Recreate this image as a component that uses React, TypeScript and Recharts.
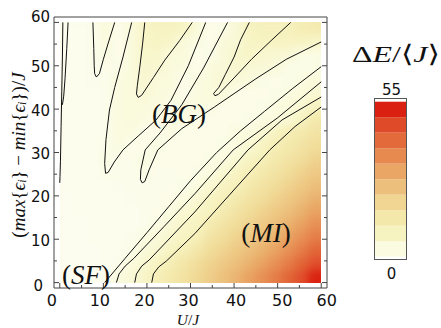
import React from "react";
import { ComposedChart, BarChart, Bar, Line, XAxis, YAxis, ReferenceArea } from "recharts";

const xTicks = [0, 5, 10, 15, 20, 25, 30, 35, 40, 45, 50, 55, 60];
const yTicks = [0, 5, 10, 15, 20, 25, 30, 35, 40, 45, 50, 55, 60];

// density grid: cell centres (U/J across, disorder width down), values of the gap
const uCenters = [1.5, 4.5, 7.5, 10.5, 13.5, 16.5, 19.5, 22.5, 25.5, 28.5, 31.5, 34.5, 37.5, 40.5, 43.5, 46.5, 49.5, 52.5, 55.5, 58.5];
const vCenters = [58.5, 55.5, 52.5, 49.5, 46.5, 43.5, 40.5, 37.5, 34.5, 31.5, 28.5, 25.5, 22.5, 19.5, 16.5, 13.5, 10.5, 7.5, 4.5, 1.5];
const gapRows = [
  [0.3, 0.5, 0.8, 3.5, 1, 3.5, 7, 8, 8, 7.5, 3.5, 1, 1.5, 4.5, 8, 9, 9, 9, 11, 12],
  [0.3, 0.5, 0.8, 3, 1, 3.5, 7, 7.5, 7, 3.5, 2.5, 1, 4, 4.5, 7.5, 8, 8, 8, 8, 7],
  [0.3, 0.5, 0.8, 2.5, 1, 3.5, 6.5, 6.5, 3.5, 3.5, 1, 1.5, 4, 6.5, 7, 5.5, 5.5, 4.5, 2, 2],
  [0.3, 0.5, 0.8, 1, 1.5, 3.5, 6, 5.5, 3.5, 3, 1, 3.5, 4, 6, 4.5, 4.5, 3.5, 1.5, 1.5, 2],
  [0.3, 0.5, 0.7, 0.8, 3, 3.5, 5.5, 3.5, 3.5, 1, 3, 3.5, 5, 4, 3.5, 1.5, 1.2, 1.5, 3, 3.5],
  [0.3, 0.5, 0.6, 0.8, 3, 3.5, 4, 3.5, 3, 1, 3, 3.5, 3.5, 1.2, 1.2, 1.3, 1.5, 3, 3.5, 5],
  [0.3, 0.5, 0.6, 0.8, 3, 3.5, 3.5, 3, 1, 3, 3, 2.8, 1.2, 1.2, 1.3, 1.5, 3, 3.5, 5.5, 8],
  [0.3, 0.5, 0.6, 0.8, 3, 3.5, 3, 1, 3, 3, 1.2, 1.2, 1.2, 1.3, 1.5, 3, 3, 5, 8, 13],
  [0.3, 0.5, 0.6, 0.9, 3, 3, 1, 1.2, 2.8, 1.2, 1.2, 1.2, 1.3, 3, 3, 5, 8, 11, 13, 15],
  [0.3, 0.5, 0.6, 1.5, 2.5, 1, 1.2, 2.5, 1.2, 1.2, 1.2, 1.3, 2, 3, 5, 8, 11, 13, 15, 17],
  [0.3, 0.5, 0.6, 2, 1, 1, 2.5, 1.2, 1.2, 1.2, 1.3, 2, 3, 5, 8, 10, 13, 15, 17, 20],
  [0.3, 0.4, 0.5, 1.2, 0.8, 0.8, 2, 1, 1, 1.2, 1.8, 3, 5, 8, 10, 13, 15, 17, 20, 22.5],
  [0.3, 0.4, 0.5, 0.6, 0.7, 0.8, 0.9, 1, 1.1, 1.5, 3, 5, 8, 9.5, 13, 15, 17, 20, 22.5, 25],
  [0.2, 0.3, 0.4, 0.5, 0.6, 0.7, 0.8, 1, 1.3, 3, 5, 8, 9.5, 12.5, 15, 17, 20, 22.5, 25, 28],
  [0.2, 0.3, 0.3, 0.4, 0.5, 0.6, 0.8, 1.2, 3, 5, 7, 8.5, 12, 15, 17, 20, 22.5, 25, 28, 31],
  [0.2, 0.2, 0.3, 0.4, 0.5, 0.6, 0.9, 2.5, 4.5, 7, 8.5, 12, 15, 17, 20, 22.5, 25, 28, 31, 34.5],
  [0.2, 0.2, 0.3, 0.3, 0.5, 0.8, 2.5, 4, 6, 8, 10, 15, 17, 20, 22.5, 25, 28, 31, 34.5, 38],
  [0.2, 0.2, 0.2, 0.3, 0.5, 1.5, 4, 5.5, 8, 10.5, 14, 17, 20, 22.5, 25, 28, 31, 34.5, 38, 42],
  [0.2, 0.2, 0.2, 0.3, 0.8, 3.5, 5.5, 8, 11, 14, 17, 20, 22.5, 25, 28, 31, 34.5, 38, 42, 46],
  [0.2, 0.2, 0.2, 0.5, 3, 4.5, 7, 10, 13, 15.5, 18.5, 21.5, 24.5, 27.5, 31, 34.5, 38, 42, 46, 52],
];

// contour lines, [U/J, width/J]
const edgeA = [[0.7, 60], [0.6, 52], [0.45, 44], [0.3, 36], [0.15, 28], [0.05, 24.5], [0, 23]];
const edgeB = [[1.9, 60], [1.6, 54], [1.2, 47], [0.9, 43], [0.6, 41]];
const tongue1 = [[7.6, 60], [7.8, 54], [7.9, 50], [8.0, 48.2], [8.4, 47.4], [9.1, 48.2], [10.0, 51.5], [11.2, 55.5], [12.6, 60]];
const tongue2 = [[19.5, 60], [19.0, 55], [18.4, 50], [17.8, 45.5], [17.6, 43.5], [18.0, 42.7], [18.8, 43.2], [21.5, 47.3], [24.1, 51.3], [27.5, 55.8], [30.4, 60]];
const tongueA = [[16.5, 60], [14.5, 52], [12.6, 45], [11.4, 39.8], [10.6, 33], [10.3, 27.5], [10.5, 25.2], [11.1, 25.4], [12.5, 27.8], [14.5, 30.6], [18, 33.8], [22.1, 37.5], [25.5, 42], [29.5, 50], [33.5, 60]];
const tongueB = [[38.5, 60], [33, 49.5], [28, 41], [23, 34.5], [19.6, 30.6], [18.6, 26], [18.5, 23.8], [18.9, 23.0], [19.5, 23.3], [20.5, 26], [22.5, 30.6], [28, 35.5], [35.5, 40.5], [45, 47], [52, 51.5], [60, 55.5]];
const tongue3 = [[43.5, 60], [41.5, 56], [40, 52], [38, 48], [36.5, 45], [35.3, 43.6], [35.6, 43.1], [36.4, 43.4], [40, 47.2], [44, 51.5], [48.5, 55.8], [53, 60]];
const mott1 = [[10.3, 0], [15, 5.6], [20, 11.5], [25, 17.5], [30, 23.5], [36, 30], [41.5, 35], [47, 39.5], [53.5, 44.8], [60, 49.8]];
const mott2 = [[13, 0], [13.6, 2], [15, 3.8], [17, 5.6], [24, 13], [31.1, 20.6], [39.8, 30.6], [50, 38], [60, 46.3]];
const mott3 = [[17.2, 0], [17.6, 2], [18.8, 3.8], [20.5, 5.2], [31, 16.3], [43.2, 30.6], [51, 37.5], [60, 42.8]];
const mott4 = [[21.1, 0], [21.5, 2], [22.7, 3.6], [24.5, 5], [31, 11.3], [48.2, 30.6], [54, 36], [60, 40.5]];
const contours = [edgeA, edgeB, tongue1, tongue2, tongueA, tongueB, tongue3, mott1, mott2, mott3, mott4];

// colour bar
const barLevels = [0, 5.5, 11, 16.5, 22, 27.5, 33, 38.5, 44, 49.5, 55];
const barColors = ["#fafbe0", "#f7f3c1", "#f3e7a9", "#f0d692", "#ecc07c", "#e9a664", "#e68a50", "#e36a3b", "#df4a28", "#da2010"];

const lowColor = "#fdfdf0";
const highColor = "#d6170a";
const frameColor = "#444";

const toRgb = (c: string) => [1, 3, 5].map((i) => parseInt(c.slice(i, i + 2), 16));
const stops: [number, string][] = [
  [barLevels[0], lowColor],
  ...barColors.map((c, i) => [(barLevels[i] + barLevels[i + 1]) / 2, c] as [number, string]),
  [barLevels[barLevels.length - 1], highColor],
];
function gapColor(g: number) {
  for (let i = 1; i < stops.length; i++) {
    if (g <= stops[i][0] || i === stops.length - 1) {
      const [g0, c0] = stops[i - 1];
      const [g1, c1] = stops[i];
      const t = Math.max(0, Math.min(1, (g - g0) / (g1 - g0)));
      const a = toRgb(c0);
      const b = toRgb(c1);
      return `rgb(${a.map((x, k) => Math.round(x + (b[k] - x) * t)).join(",")})`;
    }
  }
  return highColor;
}

const half = (uCenters[1] - uCenters[0]) / 2;
const cells = vCenters.flatMap((v, r) => uCenters.map((u, c) => ({ u, v, g: gapRows[r][c] })));
const barRow = [Object.fromEntries(barColors.map((_, i) => ["b" + i, barLevels[i + 1] - barLevels[i]]))];

const tickFont = "'DejaVu Sans', sans-serif";
const xLabelShift: Record<number, number> = { 0: -8, 10: -3.5, 20: -2.5, 30: -2, 40: 2, 50: 4.5, 60: 5.5 };
const tickLen = (v: number) => (v % 10 === 0 ? 5 : 3);

const BottomTick = (p: any) => {
  const v = p.payload.value;
  return (
    <g>
      <line x1={p.x} x2={p.x} y1={p.y} y2={p.y - tickLen(v)} stroke={frameColor} />
      {v % 10 === 0 && (
        <text x={p.x + (xLabelShift[v] || 0)} y={p.y + 17.5} textAnchor="middle" fontFamily={tickFont} fontSize={16} fill="#111">
          {v}
        </text>
      )}
    </g>
  );
};
const TopTick = (p: any) => (
  <line x1={p.x} x2={p.x} y1={p.y} y2={p.y + tickLen(p.payload.value)} stroke={frameColor} />
);
const LeftTick = (p: any) => {
  const v = p.payload.value;
  const dy = v === 60 ? -6 : v === 0 ? 2.5 : 1;
  return (
    <g>
      <line x1={p.x} x2={p.x + tickLen(v)} y1={p.y} y2={p.y} stroke={frameColor} />
      {v % 10 === 0 && (
        <text x={p.x - 4 + (v === 0 ? -7 : 0)} y={p.y + dy + 5.5} textAnchor="end" fontFamily={tickFont} fontSize={15} fill="#111">
          {v}
        </text>
      )}
    </g>
  );
};
const RightTick = (p: any) => (
  <line x1={p.x} x2={p.x - tickLen(p.payload.value)} y1={p.y} y2={p.y} stroke={frameColor} />
);

const xDomain: [number, number] = [-1.33, 61.33];
const yDomain: [number, number] = [-1.25, 61.25];
const chartMargin = { top: 17, right: 114, bottom: 0, left: 0 };

export default function App() {
  return (
    <div style={{ position: "absolute", left: 0, top: 0, width: 441, height: 328, background: "#fff" }}>
      <svg width={0} height={0} style={{ position: "absolute" }}>
        <filter id="smooth" x="0" y="0" width="100%" height="100%" colorInterpolationFilters="sRGB">
          <feGaussianBlur stdDeviation={4.5} />
          <feComponentTransfer>
            <feFuncA type="linear" slope={0} intercept={1} />
          </feComponentTransfer>
        </filter>
      </svg>

      {/* density layer, smoothed and clipped to the data region */}
      <div style={{ position: "absolute", left: 59.6, top: 22.2, width: 261.8, height: 260.5, overflow: "hidden" }}>
        <div style={{ position: "absolute", left: -59.6, top: -22.2, width: 441, height: 328, filter: "url(#smooth)" }}>
          <ComposedChart width={441} height={328} margin={chartMargin}>
            <XAxis xAxisId="b" type="number" dataKey="u" domain={xDomain} height={40} tick={false} tickLine={false} axisLine={false} allowDataOverflow />
            <YAxis yAxisId="l" type="number" dataKey="v" domain={yDomain} width={54} tick={false} tickLine={false} axisLine={false} allowDataOverflow />
            {cells.map((d, i) => (
              <ReferenceArea key={"c" + i} xAxisId="b" yAxisId="l" x1={d.u - half} x2={d.u + half + 0.12}
                y1={d.v - half - 0.12} y2={d.v + half} fill={gapColor(d.g)} fillOpacity={1} stroke="none"
                shapeRendering="crispEdges" />
            ))}
            <Line xAxisId="b" yAxisId="l" data={cells} dataKey="v" stroke="none" dot={false} activeDot={false} isAnimationActive={false} />
          </ComposedChart>
        </div>
      </div>

      {/* frame, ticks and contour lines */}
      <div style={{ position: "absolute", left: 0, top: 0 }}>
        <ComposedChart width={441} height={328} margin={{ top: 0, right: 0, bottom: 0, left: 0 }}>
          <XAxis xAxisId="b" type="number" dataKey="u" domain={xDomain} ticks={xTicks} interval={0} height={40}
            tickSize={0} tickMargin={0} tickLine={false} axisLine={{ stroke: frameColor }} tick={BottomTick} allowDataOverflow />
          <XAxis xAxisId="t" orientation="top" type="number" domain={xDomain} ticks={xTicks} interval={0} height={17}
            tickSize={0} tickMargin={0} tickLine={false} axisLine={{ stroke: frameColor }} tick={TopTick} allowDataOverflow />
          <YAxis yAxisId="l" type="number" dataKey="v" domain={yDomain} ticks={yTicks} interval={0} width={54}
            tickSize={0} tickMargin={0} tickLine={false} axisLine={{ stroke: frameColor }} tick={LeftTick} allowDataOverflow />
          <YAxis yAxisId="r" orientation="right" type="number" domain={yDomain} ticks={yTicks} interval={0} width={114}
            tickSize={0} tickMargin={0} tickLine={false} axisLine={{ stroke: frameColor }} tick={RightTick} allowDataOverflow />
          {contours.map((pts, i) => (
            <Line key={"l" + i} xAxisId="b" yAxisId="l" data={pts.map(([u, v]) => ({ u, v }))} dataKey="v"
              type="linear" stroke="#111" strokeWidth={1} dot={false} activeDot={false} isAnimationActive={false} />
          ))}
        </ComposedChart>
      </div>

      <div style={{ position: "absolute", left: 374, top: 98, width: 31, height: 160, border: "1px solid #555" }}>
        <BarChart width={31} height={160} data={barRow} margin={{ top: 0, right: 0, bottom: 0, left: 0 }} barCategoryGap={0} barGap={0}>
          <XAxis type="category" hide />
          <YAxis type="number" domain={[-0.82, 55.96]} hide allowDataOverflow />
          {barColors.map((c, i) => (
            <Bar key={i} dataKey={"b" + i} stackId="s" fill={c} isAnimationActive={false} />
          ))}
        </BarChart>
      </div>

      <svg width={441} height={328} style={{ position: "absolute", left: 0, top: 0, pointerEvents: "none" }}
        fontFamily="'Liberation Serif', 'DejaVu Serif', serif" fill="#111">
        <text x={86} y={275} fontSize={27} textAnchor="middle" dominantBaseline="central">
          (<tspan fontStyle="italic">SF</tspan>)
        </text>
        <text x={179} y={114} fontSize={27} textAnchor="middle" dominantBaseline="central">
          (<tspan fontStyle="italic">BG</tspan>)
        </text>
        <text x={266} y={233} fontSize={27} textAnchor="middle" dominantBaseline="central">
          (<tspan fontStyle="italic">MI</tspan>)
        </text>
        <text x={188} y={324.5} fontSize={15.5} textAnchor="middle">
          <tspan fontStyle="italic">U</tspan>/<tspan fontStyle="italic">J</tspan>
        </text>
        <text transform="translate(18,155) rotate(-90)" fontSize={19} textAnchor="middle" dominantBaseline="central">
          (<tspan fontStyle="italic">max</tspan>{"{"}<tspan fontStyle="italic">ϵ</tspan>
          <tspan fontStyle="italic" fontSize={12} dy={4}>i</tspan>
          <tspan dy={-4}>{"}"} − </tspan>
          <tspan fontStyle="italic">min</tspan>{"{"}<tspan fontStyle="italic">ϵ</tspan>
          <tspan fontStyle="italic" fontSize={12} dy={4}>i</tspan>
          <tspan dy={-4}>{"})/"}</tspan>
          <tspan fontStyle="italic">J</tspan>
        </text>
        <text x={352} y={54} fontSize={24} dominantBaseline="central" textLength={88} lengthAdjust="spacingAndGlyphs">
          Δ<tspan fontStyle="italic">E</tspan>/⟨<tspan fontStyle="italic">J</tspan>⟩
        </text>
        <text x={391.5} y={95} fontSize={15} textAnchor="middle" fontFamily={tickFont}>
          {barLevels[barLevels.length - 1]}
        </text>
        <text x={391.5} y={279} fontSize={15} textAnchor="middle" fontFamily={tickFont}>
          {barLevels[0]}
        </text>
      </svg>
    </div>
  );
}
